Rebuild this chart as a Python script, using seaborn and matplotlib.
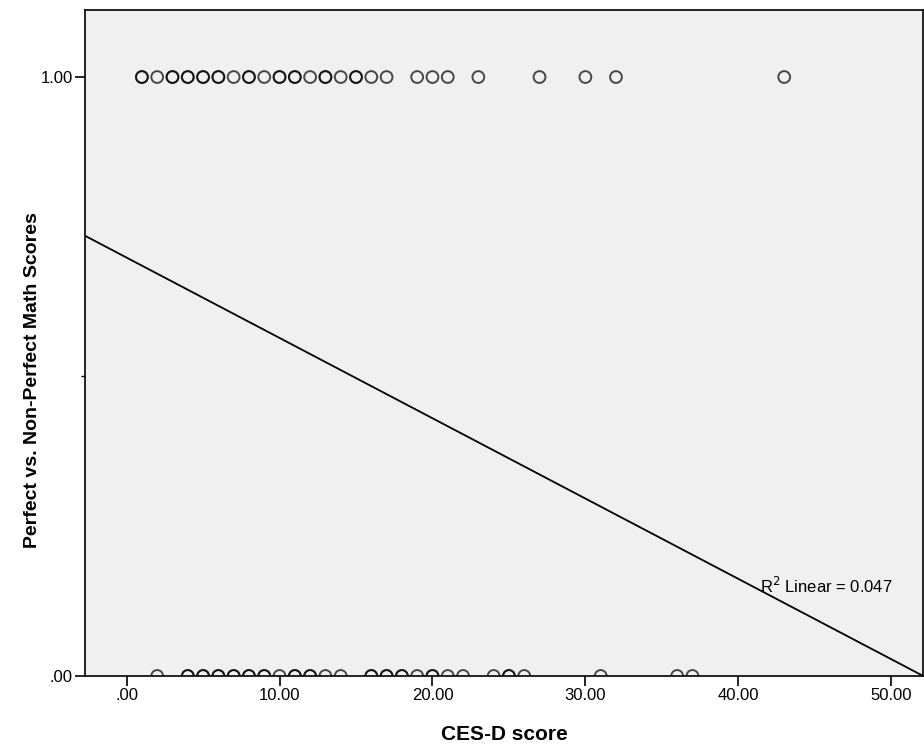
import seaborn as sns
import matplotlib.pyplot as plt
import numpy as np
import pandas as pd

# CES-D scores for the two groups (repeated values = overlapping cases)
perfect_x = [1, 1, 2, 3, 3, 4, 4, 5, 5, 6, 6, 7, 8, 8, 9, 10, 10, 11, 11, 12,
             13, 13, 14, 15, 15, 16, 17, 19, 20, 21, 23, 27, 30, 32, 43]
nonperfect_x = [2, 4, 4, 5, 5, 6, 6, 7, 7, 8, 8, 9, 9, 10, 11, 11, 12, 12, 13, 14,
                16, 16, 17, 17, 18, 18, 19, 20, 20, 21, 22, 24, 25, 25, 26, 31, 36, 37]

# linear fit shown in the chart
fit_intercept = 0.6985
fit_slope = -0.01341
r2_label = "R$^2$ Linear = 0.047"

x_ticks = [0, 10, 20, 30, 40, 50]
x_ticklabels = [".00", "10.00", "20.00", "30.00", "40.00", "50.00"]
y_ticks = [0, 1]
y_ticklabels = [".00", "1.00"]

df = pd.DataFrame({
    "ces_d": perfect_x + nonperfect_x,
    "group": [1.0] * len(perfect_x) + [0.0] * len(nonperfect_x),
})

sns.set_style("ticks", {"axes.facecolor": "#F0F0F0", "axes.edgecolor": "black",
                        "text.color": "black", "axes.labelcolor": "black",
                        "xtick.color": "black", "ytick.color": "black"})
plt.rcParams["font.family"] = ["Liberation Sans", "DejaVu Sans"]

fig = plt.figure(figsize=(9.24, 7.48), dpi=100)
ax = fig.add_axes([0.092, 0.0963, 0.907, 0.8904])

sns.scatterplot(data=df, x="ces_d", y="group", ax=ax, marker="o", s=72,
                facecolor="none", edgecolor=(0.0, 0.0, 0.0, 0.7), linewidth=1.4,
                legend=False, zorder=3)

xlim = (-2.72, 52.08)
line_x = np.array(xlim)
line_df = pd.DataFrame({"x": line_x, "y": fit_intercept + fit_slope * line_x})
sns.lineplot(data=line_df, x="x", y="y", ax=ax, color="black", linewidth=1.3)

ax.set_xlim(*xlim)
ax.set_ylim(0, 1.112)
ax.set_xticks(x_ticks)
ax.set_xticklabels(x_ticklabels, fontsize=12)
ax.set_yticks(y_ticks)
ax.set_yticklabels(y_ticklabels, fontsize=12)
ax.set_yticks([0.5], minor=True)
ax.tick_params(axis="both", which="major", length=7, width=1.2, direction="out", pad=2)
ax.tick_params(axis="y", which="minor", length=3, width=1)

for s in ax.spines.values():
    s.set_linewidth(1.2)

ax.set_xlabel("CES-D score", fontsize=15, fontweight="bold")
ax.set_ylabel("Perfect vs. Non-Perfect Math Scores", fontsize=14, fontweight="bold")
ax.xaxis.set_label_coords(0.5, -0.074)
ax.yaxis.set_label_coords(-0.052, 0.444)

ax.text(41.4, 0.15, r2_label, fontsize=12, va="center", ha="left", color="black")

fig.savefig("out.png", dpi=100)
